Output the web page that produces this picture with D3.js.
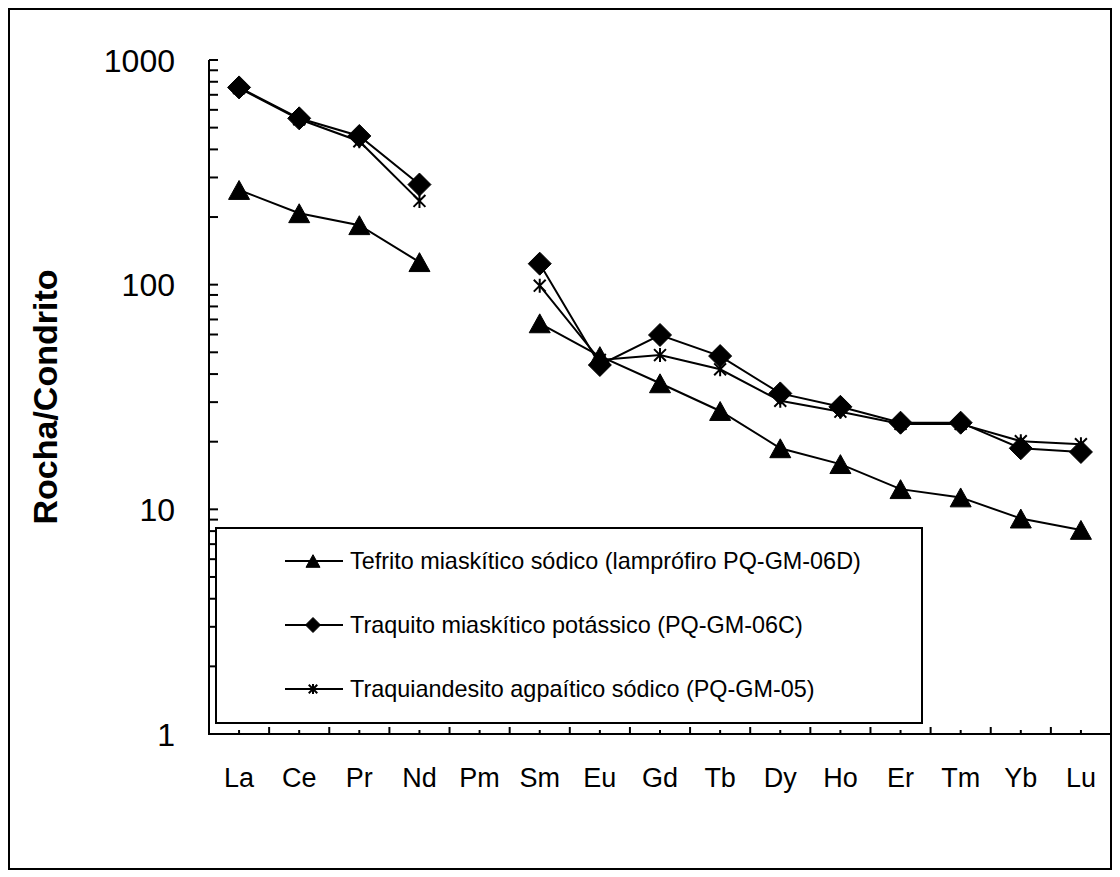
<!DOCTYPE html>
<html>
<head>
<meta charset="utf-8">
<script src="https://cdn.jsdelivr.net/npm/d3@7"></script>
<style>
	body { margin: 0; background: #fff; }
	svg text { font-family: "Liberation Sans", Arial, sans-serif; fill: #000; }
</style>
</head>
<body>
<svg id="chart" width="1120" height="877"></svg>
<script>
// REE pattern normalised to chondrite
var elements = ["La", "Ce", "Pr", "Nd", "Pm", "Sm", "Eu", "Gd", "Tb", "Dy", "Ho", "Er", "Tm", "Yb", "Lu"];

// null = not analysed (Pm), line breaks there
var tefrito = [264, 208, 184, 126, null, 67.3, 48.1, 36.4, 27.4, 18.7, 15.9, 12.3, 11.3, 9.1, 8.1];
var traquito = [755, 550, 459, 279, null, 124, 43.9, 59.7, 48.1, 32.8, 28.6, 24.3, 24.3, 18.7, 18.0];
var traquiandesito = [750, 545, 435, 236, null, 99, 46.2, 48.6, 42, 30.4, 27.2, 24.0, 24.0, 20.1, 19.5];

var seriesNames = [
	"Tefrito miaskítico sódico (lamprófiro PQ-GM-06D)",
	"Traquito miaskítico potássico (PQ-GM-06C)",
	"Traquiandesito agpaítico sódico (PQ-GM-05)"
];
var yTicks = [1, 10, 100, 1000];
var yTitle = "Rocha/Condrito";

var series = [
	{ name: seriesNames[0], values: tefrito, marker: "triangle" },
	{ name: seriesNames[1], values: traquito, marker: "diamond" },
	{ name: seriesNames[2], values: traquiandesito, marker: "star" }
];

var svg = d3.select("#chart");

// outer chart frame
svg.append("rect")
	.attr("x", 9).attr("y", 9)
	.attr("width", 1102).attr("height", 860)
	.attr("fill", "none")
	.attr("stroke", "#000")
	.attr("stroke-width", 2);

var margin = { top: 60, left: 209, right: 9, bottom: 143 },
	width = 1120 - margin.left - margin.right,
	height = 877 - margin.top - margin.bottom;

var g = svg.append("g")
	.attr("transform", "translate(" + margin.left + "," + margin.top + ")");

var x = d3.scaleBand().domain(elements).range([0, width]);
var y = d3.scaleLog().domain([1, 1000]).range([height, 0]);

// markers
function markerPath(type, s) {
	if (type === "diamond") {
		return "M0," + (-s) + "L" + s + ",0L0," + s + "L" + (-s) + ",0Z";
	}
	if (type === "triangle") {
		var h = s * 0.9;
		return "M0," + (-h) + "L" + s + "," + h + "L" + (-s) + "," + h + "Z";
	}
	// star: x with a vertical bar
	var a = s * 0.85;
	return "M" + (-a) + "," + (-a) + "L" + a + "," + a +
		"M" + (-a) + "," + a + "L" + a + "," + (-a) +
		"M0," + (-s) + "L0," + s;
}
var markerSize = { diamond: 11.5, triangle: 10.5, star: 7 };

// y axis: minor log ticks pointing inward
var minor = [];
for (var p = 1; p < 1000; p *= 10) {
	for (var k = 1; k < 10; k++) minor.push(p * k);
}
minor.push(1000);

g.append("line")
	.attr("x1", 0).attr("x2", 0)
	.attr("y1", 0).attr("y2", height)
	.attr("stroke", "#000").attr("stroke-width", 2);

g.selectAll(".ytick")
	.data(minor)
	.enter()
	.append("line")
	.attr("class", "ytick")
	.attr("x1", 0).attr("x2", 9)
	.attr("y1", function(d) { return y(d); })
	.attr("y2", function(d) { return y(d); })
	.attr("stroke", "#000").attr("stroke-width", 2);

g.selectAll(".ylabel")
	.data(yTicks)
	.enter()
	.append("text")
	.attr("class", "ylabel")
	.attr("x", -34)
	.attr("y", function(d) { return y(d); })
	.attr("dy", "0.36em")
	.attr("text-anchor", "end")
	.style("font-size", "32px")
	.text(function(d) { return d; });

// x axis: boundary ticks + centre ticks, both upward
g.append("line")
	.attr("x1", -1).attr("x2", width)
	.attr("y1", height).attr("y2", height)
	.attr("stroke", "#000").attr("stroke-width", 2);

var bounds = elements.map(function(d) { return x(d); }).concat([width]);
g.selectAll(".xmajor")
	.data(bounds)
	.enter()
	.append("line")
	.attr("class", "xmajor")
	.attr("x1", function(d) { return d; })
	.attr("x2", function(d) { return d; })
	.attr("y1", height).attr("y2", height - 7)
	.attr("stroke", "#000").attr("stroke-width", 2);

g.selectAll(".xminor")
	.data(elements)
	.enter()
	.append("line")
	.attr("class", "xminor")
	.attr("x1", function(d) { return x(d) + x.bandwidth() / 2; })
	.attr("x2", function(d) { return x(d) + x.bandwidth() / 2; })
	.attr("y1", height).attr("y2", height - 4)
	.attr("stroke", "#000").attr("stroke-width", 2);

g.selectAll(".xlabel")
	.data(elements)
	.enter()
	.append("text")
	.attr("class", "xlabel")
	.attr("x", function(d) { return x(d) + x.bandwidth() / 2; })
	.attr("y", height + 53)
	.attr("text-anchor", "middle")
	.style("font-size", "27px")
	.text(function(d) { return d; });

// y title
svg.append("text")
	.attr("transform", "translate(57,397) rotate(-90)")
	.attr("text-anchor", "middle")
	.style("font-size", "34px")
	.style("font-weight", "bold")
	.text(yTitle);

// lines and markers
var line = d3.line()
	.defined(function(d) { return d.v != null; })
	.x(function(d) { return x(d.el) + x.bandwidth() / 2; })
	.y(function(d) { return y(d.v); });

series.forEach(function(s) {
	var pts = s.values.map(function(v, i) { return { el: elements[i], v: v }; });

	g.append("path")
		.datum(pts)
		.attr("fill", "none")
		.attr("stroke", "#000")
		.attr("stroke-width", 2)
		.attr("d", line);

	g.selectAll(".m-" + s.marker)
		.data(pts.filter(function(d) { return d.v != null; }))
		.enter()
		.append("path")
		.attr("class", "m-" + s.marker)
		.attr("transform", function(d) {
			return "translate(" + (x(d.el) + x.bandwidth() / 2) + "," + y(d.v) + ")";
		})
		.attr("d", markerPath(s.marker, markerSize[s.marker]))
		.attr("fill", s.marker === "star" ? "none" : "#000")
		.attr("stroke", "#000")
		.attr("stroke-width", s.marker === "star" ? 2 : 1);
});

// legend box (sits over the axis ticks)
var legend = svg.append("g").attr("transform", "translate(216,528)");
legend.append("rect")
	.attr("width", 706).attr("height", 195)
	.attr("fill", "#fff")
	.attr("stroke", "#000")
	.attr("stroke-width", 2);

var legendSize = { diamond: 7.5, triangle: 7, star: 5 };
series.forEach(function(s, i) {
	var ly = 33 + i * 64;
	legend.append("line")
		.attr("x1", 69).attr("x2", 127)
		.attr("y1", ly).attr("y2", ly)
		.attr("stroke", "#000").attr("stroke-width", 2);
	legend.append("path")
		.attr("transform", "translate(97," + ly + ")")
		.attr("d", markerPath(s.marker, legendSize[s.marker]))
		.attr("fill", s.marker === "star" ? "none" : "#000")
		.attr("stroke", "#000")
		.attr("stroke-width", s.marker === "star" ? 2 : 1);
	legend.append("text")
		.attr("x", 134)
		.attr("y", ly)
		.attr("dy", "0.36em")
		.style("font-size", "23.4px")
		.text(s.name);
});
</script>
</body>
</html>
